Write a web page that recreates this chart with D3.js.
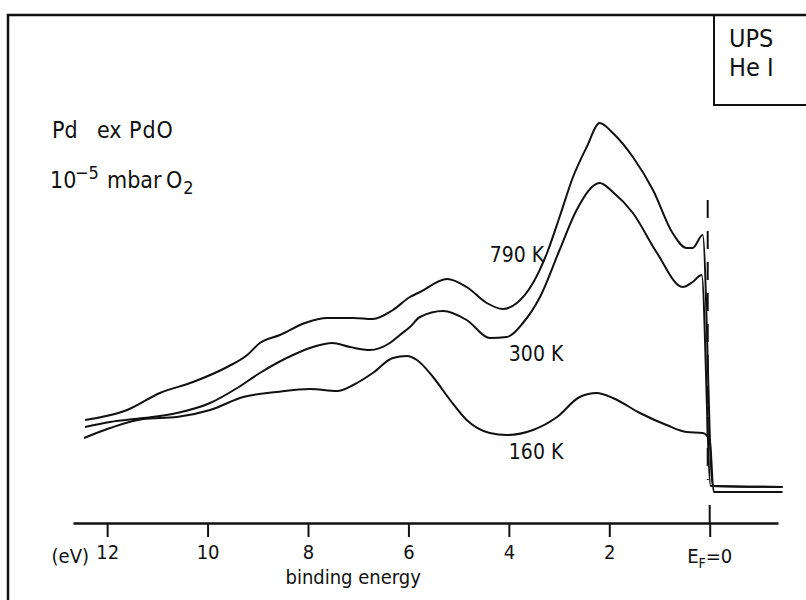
<!DOCTYPE html>
<html>
<head>
<meta charset="utf-8">
<script src="https://cdn.jsdelivr.net/npm/d3@7"></script>
<style>
  body { margin: 0; background: #fff; }
  svg { display: block; }
  text { font-family: 'DejaVu Sans Condensed', 'Liberation Sans Narrow', 'DejaVu Sans', sans-serif; fill: #111; }
</style>
</head>
<body>
<svg id="chart"></svg>
<script>
// binding energy (eV) and intensity (arb. units)
const energy790 = [12.44, 11.6, 10.95, 10.29, 9.61, 9.21, 8.96, 8.56, 8.06, 7.62, 7.1, 6.71, 6.31, 5.97, 5.77, 5.23, 4.84, 4.44, 4.12, 3.84, 3.52, 3.24, 2.99, 2.73, 2.45, 2.19, 1.93, 1.53, 1.13, 0.74, 0.46, 0.34, 0.14, -0.06, -1.45];
const counts790 = [20, 22.5, 26.75, 29.5, 33.25, 36.25, 39.25, 41.25, 44.25, 45.5, 45.5, 45.25, 47.5, 50.75, 52, 55.25, 53.25, 49.25, 47.75, 49.25, 54.25, 61.75, 70.75, 80.5, 88.25, 94.25, 91.75, 85.75, 77.5, 66.75, 63, 63, 66.25, 3.5, 3.25];

const energy300 = [12.44, 11.94, 11.28, 10.61, 9.95, 9.41, 8.96, 8.3, 7.9, 7.52, 7.16, 6.77, 6.37, 6.17, 5.97, 5.77, 5.31, 4.84, 4.38, 4.04, 3.72, 3.38, 2.99, 2.65, 2.19, 1.93, 1.53, 1.05, 0.54, 0.34, 0.16, -0.02, -1.45];
const counts300 = [18.25, 19.5, 20.5, 21.75, 24.25, 28, 31.75, 36.25, 38.25, 39.25, 38.25, 37.5, 39.25, 41.25, 43.25, 45.75, 47.25, 45, 40.5, 40.75, 44.25, 50.75, 62.5, 72.5, 79.25, 77, 71.75, 61.75, 53.25, 54.5, 56.25, 3.5, 3.25];

const energy160 = [12.46, 11.94, 11.28, 10.61, 9.95, 9.29, 8.62, 7.96, 7.42, 7.1, 6.71, 6.31, 6.03, 5.83, 5.51, 5.17, 4.84, 4.38, 4.04, 3.52, 3.04, 2.59, 2.25, 1.93, 1.39, 0.86, 0.46, 0.14, 0.0, -0.08, -1.45];
const counts160 = [15.5, 18, 20.25, 20.75, 22.5, 25.75, 27, 27.75, 27.25, 28.75, 31.75, 35.5, 36, 35, 30.75, 25, 20, 16.75, 16.25, 17.5, 20.75, 25.75, 26.75, 25.5, 21.75, 18.75, 17, 16.75, 15, 2, 2];

const tickValues = [12, 10, 8, 6, 4, 2, 0];
const tickLabels = ['12', '10', '8', '6', '4', '2', ''];
const curveLabels = ['790 K', '300 K', '160 K'];

const width = 806;
const height = 600;

const svg = d3.select('#chart')
  .attr('width', width)
  .attr('height', height);

// 12 eV sits at x=107, E_F at x=710
const xScale = d3.scaleLinear().domain([12.68, -1.36]).range([73, 778]);
const yScale = d3.scaleLinear().domain([0, 100]).range([500, 100]);

// frame: top and left edge, box at top right
svg.append('path')
  .attr('d', `M8,${height} L8,15 L${width},15`)
  .attr('fill', 'none')
  .attr('stroke', '#111')
  .attr('stroke-width', 2.5);

svg.append('path')
  .attr('d', `M714,15 L714,105 L${width},105`)
  .attr('fill', 'none')
  .attr('stroke', '#111')
  .attr('stroke-width', 2);

svg.append('text').attr('x', 729).attr('y', 47).attr('font-size', 25).text('UPS');
svg.append('text').attr('x', 729).attr('y', 76).attr('font-size', 25).text('He I');

// sample description
const desc = svg.append('text').attr('y', 138).attr('font-size', 23);
desc.append('tspan').attr('x', 52).text('Pd');
desc.append('tspan').attr('x', 97).text('ex');
desc.append('tspan').attr('x', 129).attr('letter-spacing', 1).text('PdO');

const cond = svg.append('text').attr('x', 50).attr('y', 188).attr('font-size', 23);
cond.append('tspan').text('10');
cond.append('tspan').attr('x', 75).attr('dy', -9).attr('font-size', 18).text('\u22125');
cond.append('tspan').attr('x', 107).attr('dy', 9).text('mbar');
cond.append('tspan').attr('x', 166).attr('letter-spacing', 1).text('O');
cond.append('tspan').attr('dy', 6).attr('font-size', 18).text('2');

// E_F marker (dashed)
svg.append('line')
  .attr('x1', xScale(0.04)).attr('x2', xScale(0.04))
  .attr('y1', 200).attr('y2', 480)
  .attr('stroke', '#111')
  .attr('stroke-width', 2)
  .attr('stroke-dasharray', '18,13');

// spectra
const line = d3.line()
  .x(d => xScale(d[0]))
  .y(d => yScale(d[1]))
  .curve(d3.curveMonotoneX);

const series = [
  d3.zip(energy790, counts790),
  d3.zip(energy300, counts300),
  d3.zip(energy160, counts160),
];

svg.selectAll('.spectrum')
  .data(series)
  .enter().append('path')
  .attr('class', 'spectrum')
  .attr('d', line)
  .attr('fill', 'none')
  .attr('stroke', '#111')
  .attr('stroke-width', 2)
  .attr('stroke-linejoin', 'round');

// labels at the curves
const labelPos = [[4.38, 262], [4.0, 361], [4.0, 459]];
svg.selectAll('.curve-label')
  .data(curveLabels)
  .enter().append('text')
  .attr('class', 'curve-label')
  .attr('x', (d, i) => xScale(labelPos[i][0]))
  .attr('y', (d, i) => labelPos[i][1])
  .attr('font-size', 21)
  .text(d => d);

// binding energy axis
const xAxis = d3.axisBottom(xScale)
  .tickValues(tickValues)
  .tickFormat((d, i) => tickLabels[i])
  .tickSize(14)
  .tickSizeOuter(0)
  .tickPadding(8);

const axis = svg.append('g')
  .attr('class', 'x axis')
  .attr('transform', 'translate(0,523)')
  .call(xAxis);

axis.select('.domain').attr('stroke', '#111').attr('stroke-width', 2.5);
axis.selectAll('.tick line').attr('stroke', '#111').attr('stroke-width', 2);
axis.selectAll('.tick text')
  .attr('font-family', null)
  .attr('font-size', 20)
  .attr('fill', '#111');

// E_F tick also reaches above the axis
axis.append('line')
  .attr('x1', xScale(0)).attr('x2', xScale(0))
  .attr('y1', -18).attr('y2', 0)
  .attr('stroke', '#111')
  .attr('stroke-width', 2);

const ef = axis.append('text')
  .attr('x', xScale(0))
  .attr('y', 40)
  .attr('text-anchor', 'middle')
  .attr('font-size', 20);
ef.append('tspan').text('E');
ef.append('tspan').attr('dy', 5).attr('font-size', 14).text('F');
ef.append('tspan').attr('dy', -5).text('=0');

axis.append('text')
  .attr('x', 89)
  .attr('y', 40)
  .attr('text-anchor', 'end')
  .attr('font-size', 20)
  .text('(eV)');

svg.append('text')
  .attr('x', xScale(7.1))
  .attr('y', 584)
  .attr('text-anchor', 'middle')
  .attr('font-size', 20)
  .text('binding energy');
</script>
</body>
</html>
